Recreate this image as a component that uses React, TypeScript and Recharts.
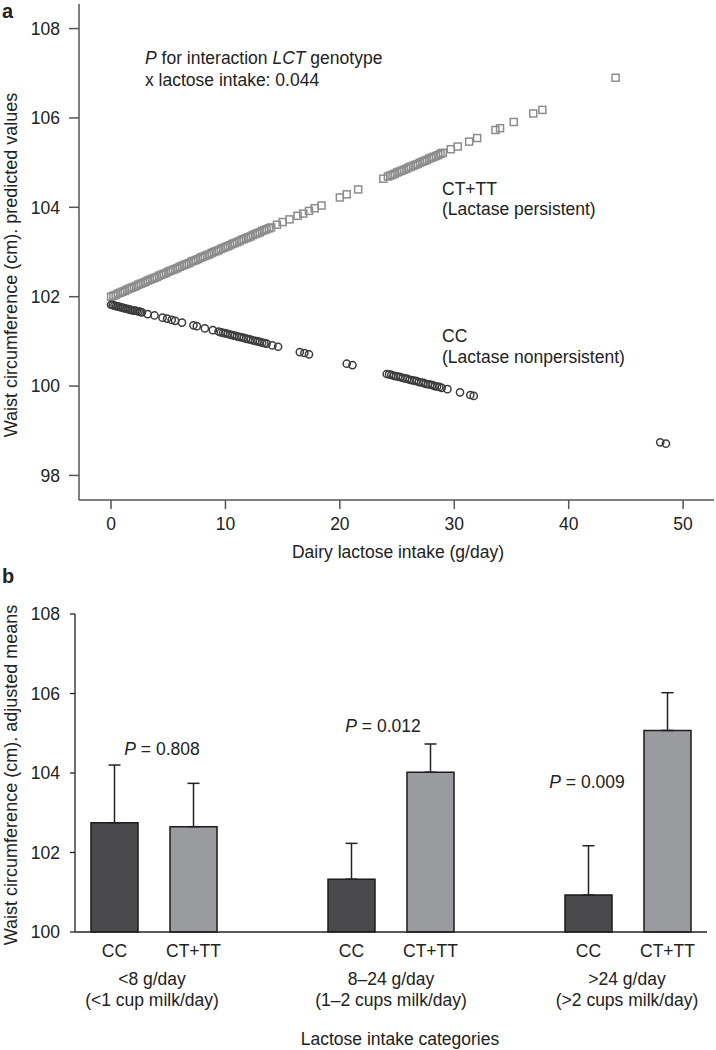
import React from 'react'
import { ScatterChart, Scatter, BarChart, Bar, Cell, ErrorBar, XAxis, YAxis } from 'recharts'

const FONT = '"Liberation Sans", Arial, Helvetica, sans-serif'
const INK = '#222'

// panel a: predicted waist circumference by dairy lactose intake
const persistentX = [
  0, 0.2, 0.4, 0.6, 0.8, 1.0, 1.2, 1.4, 1.6, 1.8, 2.0, 2.2, 2.4, 2.6, 2.8, 3.0, 3.2, 3.4,
  3.6, 3.8, 4.0, 4.2, 4.4, 4.6, 4.8, 5.0, 5.2, 5.4, 5.6, 5.8, 6.0, 6.2, 6.4, 6.6, 6.8, 7.0,
  7.2, 7.4, 7.6, 7.8, 8.0, 8.2, 8.4, 8.6, 8.8, 9.0, 9.2, 9.4, 9.6, 9.8, 10.0, 10.2, 10.4,
  10.6, 10.8, 11.0, 11.2, 11.4, 11.6, 11.8, 12.0, 12.2, 12.4, 12.6, 12.8, 13.0, 13.2, 13.4,
  13.6, 13.8, 14.0, 14.5, 15.0, 15.6, 16.3, 16.8, 17.3, 17.8, 18.4, 20.0, 20.6, 21.6, 23.8,
  24.2, 24.4, 24.6, 24.8, 25.0, 25.2, 25.4, 25.6, 25.8, 26.0, 26.2, 26.4, 26.6, 26.8, 27.0,
  27.2, 27.4, 27.6, 27.8, 28.0, 28.2, 28.4, 28.6, 28.8, 29.0, 29.7, 30.3, 31.3, 32.0, 33.6,
  34.0, 35.2, 36.9, 37.7, 44.1,
]
const persistentY = [
  102.0, 102.02, 102.04, 102.07, 102.09, 102.11, 102.13, 102.16, 102.18, 102.2, 102.22,
  102.24, 102.27, 102.29, 102.31, 102.33, 102.36, 102.38, 102.4, 102.42, 102.44, 102.47,
  102.49, 102.51, 102.53, 102.56, 102.58, 102.6, 102.62, 102.64, 102.67, 102.69, 102.71,
  102.73, 102.75, 102.78, 102.8, 102.82, 102.84, 102.87, 102.89, 102.91, 102.93, 102.95,
  102.98, 103.0, 103.02, 103.04, 103.07, 103.09, 103.11, 103.13, 103.15, 103.18, 103.2,
  103.22, 103.24, 103.27, 103.29, 103.31, 103.33, 103.35, 103.38, 103.4, 103.42, 103.44,
  103.47, 103.49, 103.51, 103.53, 103.55, 103.61, 103.67, 103.73, 103.81, 103.86, 103.92,
  103.98, 104.04, 104.22, 104.29, 104.4, 104.64, 104.69, 104.71, 104.73, 104.75, 104.78,
  104.8, 104.82, 104.84, 104.86, 104.89, 104.91, 104.93, 104.95, 104.97, 105.0, 105.02,
  105.04, 105.06, 105.09, 105.11, 105.13, 105.15, 105.17, 105.2, 105.22, 105.3, 105.36,
  105.47, 105.55, 105.73, 105.77, 105.91, 106.1, 106.18, 106.9,
]
const nonpersistentX = [
  0, 0.15, 0.3, 0.45, 0.6, 0.75, 0.9, 1.05, 1.2, 1.35, 1.5, 1.65, 1.8, 1.95, 2.1, 2.25, 2.4,
  2.55, 2.7, 3.2, 3.8, 4.5, 4.9, 5.3, 5.6, 6.2, 7.2, 7.5, 8.2, 8.9, 9.4, 9.6, 9.8, 10.0, 10.2,
  10.4, 10.6, 10.8, 11.0, 11.2, 11.4, 11.6, 11.8, 12.0, 12.2, 12.4, 12.6, 12.8, 13.0, 13.2,
  13.4, 13.6, 14.1, 14.6, 16.5, 16.9, 17.3, 20.6, 21.1, 24.1, 24.3, 24.5, 24.7, 24.9, 25.1,
  25.3, 25.5, 25.7, 25.9, 26.1, 26.3, 26.5, 26.7, 26.9, 27.1, 27.3, 27.5, 27.7, 27.9, 28.1,
  28.3, 28.5, 28.7, 28.9, 29.4, 30.5, 31.4, 31.7, 48.0, 48.5,
]
const nonpersistentY = [
  101.82, 101.81, 101.8, 101.79, 101.78, 101.77, 101.76, 101.75, 101.74, 101.73, 101.72,
  101.71, 101.7, 101.69, 101.69, 101.68, 101.67, 101.66, 101.65, 101.61, 101.58, 101.53,
  101.51, 101.48, 101.46, 101.42, 101.36, 101.34, 101.29, 101.25, 101.22, 101.2, 101.19,
  101.18, 101.17, 101.15, 101.14, 101.13, 101.11, 101.1, 101.09, 101.08, 101.06, 101.05,
  101.04, 101.02, 101.01, 101.0, 100.99, 100.97, 100.96, 100.95, 100.91, 100.88, 100.76,
  100.74, 100.71, 100.5, 100.47, 100.27, 100.26, 100.25, 100.23, 100.22, 100.21, 100.2,
  100.18, 100.17, 100.16, 100.14, 100.13, 100.12, 100.11, 100.09, 100.08, 100.07, 100.05,
  100.04, 100.03, 100.02, 100.0, 99.99, 99.98, 99.96, 99.93, 99.86, 99.8, 99.78, 98.74,
  98.71,
]
const xTicksA = [0, 10, 20, 30, 40, 50]
const yTicksA = [98, 100, 102, 104, 106, 108]

// panel b: adjusted means by intake category (blank slots separate the groups)
const slotLabels = ['CC', 'CT+TT', '', 'CC', 'CT+TT', '', 'CC', 'CT+TT']
const slotGenotype = ['CC', 'CT', '', 'CC', 'CT', '', 'CC', 'CT']
const means = [102.75, 102.65, null, 101.33, 104.02, null, 100.93, 105.07]
const upperErr = [1.45, 1.09, null, 0.9, 0.71, null, 1.24, 0.95]
const yTicksB = [100, 102, 104, 106, 108]
const groupLines1 = ['<8 g/day', '8–24 g/day', '>24 g/day']
const groupLines2 = ['(<1 cup milk/day)', '(1–2 cups milk/day)', '(>2 cups milk/day)']
const pValues = ['0.808', '0.012', '0.009']

const persistent = persistentX.map((x, i) => ({ x, y: persistentY[i] }))
const nonpersistent = nonpersistentX.map((x, i) => ({ x, y: nonpersistentY[i] }))
const barData = slotLabels.map((label, i) => ({
  slot: i,
  mean: means[i],
  err: means[i] == null ? null : [0, upperErr[i]],
}))

const tick = { fill: INK, fontSize: 17.5, fontFamily: FONT }

const SquareMark = (p: any) => (
  <rect x={p.cx - 3.5} y={p.cy - 3.5} width={7} height={7} fill="none" stroke="#8d8d8d" strokeWidth={1.5} />
)
const RingMark = (p: any) => (
  <circle cx={p.cx} cy={p.cy} r={3.6} fill="none" stroke="#3c3c3c" strokeWidth={1.5} />
)

export default function App() {
  const xDomA: [number, number] = [-2.8, 52.7]
  const yDomA: [number, number] = [97.45, 108.55]
  return (
    <div style={{ position: 'absolute', left: 0, top: 0, width: 716, height: 1050, background: '#fff', fontFamily: FONT }}>
      <div style={{ position: 'absolute', left: 0, top: 0 }}>
        <ScatterChart width={716} height={570} margin={{ top: 4, right: 2, bottom: 20, left: 0 }}>
          <XAxis
            dataKey="x" type="number" domain={xDomA} ticks={xTicksA} height={50}
            stroke="#555" strokeWidth={1.5} tickSize={9} tickMargin={9} tick={tick}
          />
          <XAxis
            xAxisId="top" orientation="top" type="number" domain={xDomA} height={0}
            tick={false} tickLine={false} stroke="#555" strokeWidth={1.5}
          />
          <YAxis
            dataKey="y" type="number" domain={yDomA} ticks={yTicksA} width={79}
            stroke="#555" strokeWidth={1.5} tickSize={10} tickMargin={9} tick={tick}
          />
          <YAxis
            yAxisId="right" orientation="right" type="number" domain={yDomA} width={0}
            tick={false} tickLine={false} stroke="#cfcfcf" strokeWidth={1.5}
          />
          <Scatter data={persistent} shape={SquareMark} isAnimationActive={false} />
          <Scatter data={nonpersistent} shape={RingMark} isAnimationActive={false} />
        </ScatterChart>
      </div>

      <div style={{ position: 'absolute', left: 0, top: 580 }}>
        <BarChart width={716} height={470} data={barData} margin={{ top: 34, right: 9, bottom: 88, left: 0 }}>
          <XAxis
            dataKey="slot" height={30} stroke={INK} strokeWidth={1.3}
            tickLine={false} tickSize={0} tickMargin={13} tick={tick} interval={0}
            tickFormatter={(v: number) => slotLabels[v]}
          />
          <XAxis
            xAxisId="top" dataKey="slot" orientation="top" height={0}
            tick={false} tickLine={false} stroke={INK} strokeWidth={1.3}
          />
          <YAxis
            type="number" domain={[100, 108]} ticks={yTicksB} width={75}
            stroke={INK} strokeWidth={1.3} tickSize={5} tickMargin={10} tick={tick}
          />
          <YAxis
            yAxisId="right" orientation="right" type="number" domain={[100, 108]} width={0}
            tick={false} tickLine={false} stroke={INK} strokeWidth={1.3}
          />
          <Bar dataKey="mean" barSize={47} stroke="#1c1c1c" strokeWidth={1.5} isAnimationActive={false}>
            {barData.map((d, i) => (
              <Cell key={i} fill={slotGenotype[i] === 'CC' ? '#4a4a4c' : '#9a9b9e'} />
            ))}
            <ErrorBar dataKey="err" width={6} stroke={INK} strokeWidth={1.5} direction="y" />
          </Bar>
        </BarChart>
      </div>

      <svg width={716} height={1050} style={{ position: 'absolute', left: 0, top: 0, pointerEvents: 'none' }}
        fontFamily={FONT} fill={INK}>
        <text x={2} y={18} fontSize={20} fontWeight="bold">a</text>
        <text x={2} y={583} fontSize={20} fontWeight="bold">b</text>

        <text x={17} y={265} fontSize={18} textAnchor="middle" transform="rotate(-90 17 265)">
          Waist circumference (cm). predicted values
        </text>
        <text x={398} y={558} fontSize={17.5} textAnchor="middle">Dairy lactose intake (g/day)</text>
        <text x={145} y={64} fontSize={17.5}>
          <tspan fontStyle="italic">P</tspan> for interaction <tspan fontStyle="italic">LCT</tspan> genotype
        </text>
        <text x={145} y={86} fontSize={17.5}>x lactose intake: 0.044</text>
        <text x={442} y={195} fontSize={17.5}>CT+TT</text>
        <text x={442} y={215} fontSize={17.5}>(Lactase persistent)</text>
        <text x={442} y={342} fontSize={17.5}>CC</text>
        <text x={442} y={363} fontSize={17.5}>(Lactase nonpersistent)</text>

        <text x={17} y={775} fontSize={18} textAnchor="middle" transform="rotate(-90 17 775)">
          Waist circumference (cm). adjusted means
        </text>
        {[162, 383, 587].map((cx, i) => (
          <text key={i} x={cx} y={[755, 732, 788][i]} fontSize={17.5} textAnchor="middle">
            <tspan fontStyle="italic">P</tspan> = {pValues[i]}
          </text>
        ))}
        {[152, 391, 627].map((cx, i) => (
          <g key={i}>
            <text x={cx} y={985} fontSize={17.5} textAnchor="middle">{groupLines1[i]}</text>
            <text x={cx} y={1006} fontSize={17.5} textAnchor="middle">{groupLines2[i]}</text>
          </g>
        ))}
        <text x={400} y={1045} fontSize={17.5} textAnchor="middle">Lactose intake categories</text>
      </svg>
    </div>
  )
}
